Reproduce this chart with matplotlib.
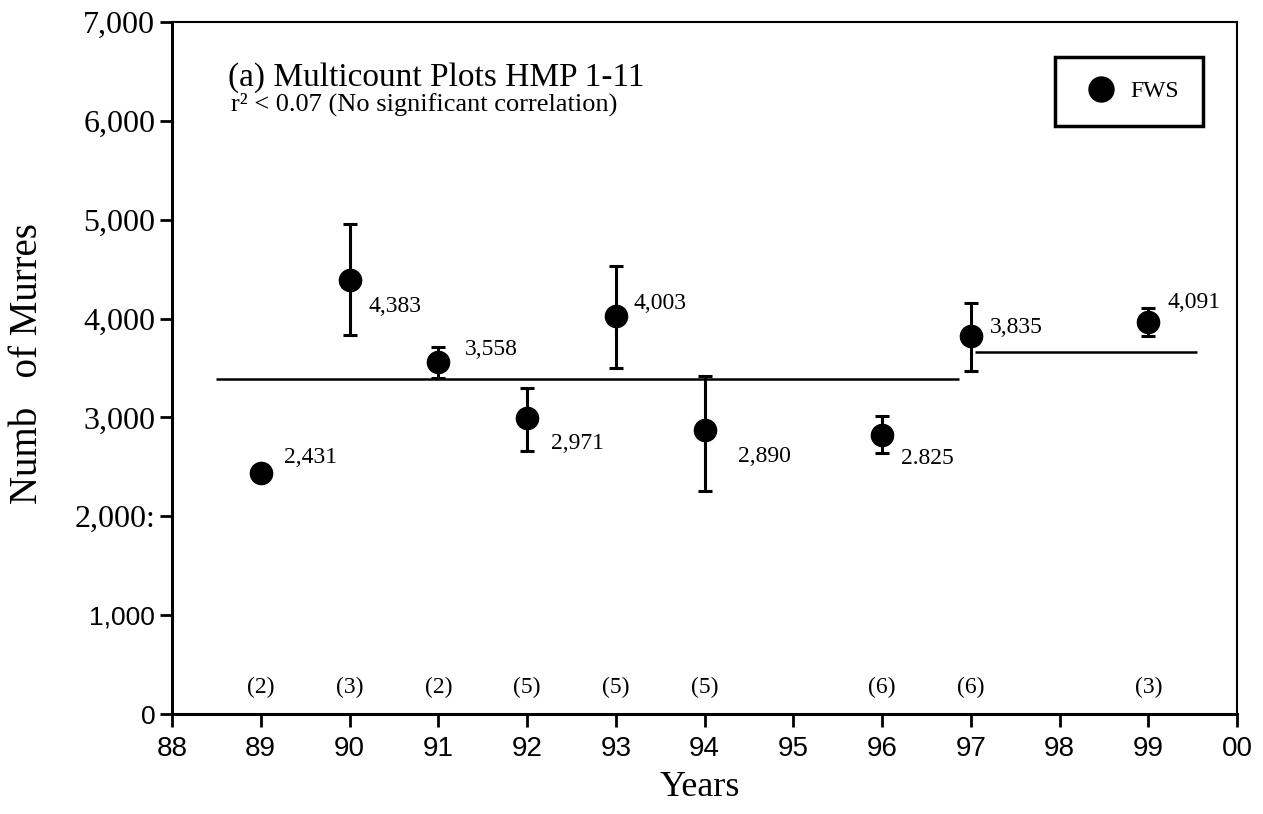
import matplotlib
matplotlib.use('Agg')
import matplotlib.pyplot as plt
from matplotlib.lines import Line2D
import numpy as np

plt.rcParams['font.family'] = 'Liberation Serif'

# murre counts, FWS multicount plots HMP 1-11
years = [89, 90, 91, 92, 93, 94, 96, 97, 99]
fws_mean = [2438, 4390, 3561, 2994, 4026, 2873, 2822, 3824, 3965]
fws_low = [2438, 3834, 3399, 2660, 3500, 2256, 2640, 3469, 3824]
fws_high = [2438, 4957, 3712, 3298, 4532, 3420, 3014, 4157, 4107]
value_labels = ['2,431', '4,383', '3,558', '2,971', '4,003', '2,890', '2.825', '3,835', '4,091']
n_plots = ['(2)', '(3)', '(2)', '(5)', '(5)', '(5)', '(6)', '(6)', '(3)']

# mean lines: before / after 97
mean_level = [3389, 3662]
mean_start = [88.5, 97.05]
mean_end = [96.87, 99.55]

xtick_vals = list(range(88, 101))
xtick_labels = ['88', '89', '90', '91', '92', '93', '94', '95', '96', '97', '98', '99', '00']
ytick_vals = [0, 1000, 2000, 3000, 4000, 5000, 6000, 7000]
ytick_labels = ['0', '1,000', '2,000:', '3,000', '4,000', '5,000', '6,000', '7,000']

# label offsets (points) from each marker
label_dx = [17, 14, 19, 17, 13, 24, 14, 14, 14]
label_dy = [11, -19, 9, -18, 9, -19, -17, 6, 14]

fig = plt.figure(figsize=(12.63, 8.14), dpi=100)
ax = fig.add_axes([172 / 1263, 1 - 714 / 814, 1065 / 1263, 692 / 814])

yerr = [np.array(fws_mean) - np.array(fws_low), np.array(fws_high) - np.array(fws_mean)]
ax.errorbar(years, fws_mean, yerr=yerr, fmt='o', color='black', markersize=16,
            elinewidth=2.2, capsize=5, capthick=2.2, zorder=3)

ax.hlines(mean_level, mean_start, mean_end, color='black', linewidth=1.8)

for x, y, s, dx, dy in zip(years, fws_mean, value_labels, label_dx, label_dy):
    ax.annotate(s, (x, y), xytext=(dx, dy), textcoords='offset points',
                ha='left', va='center', fontsize=17)

for x, s in zip(years, n_plots):
    ax.text(x, 270, s, ha='center', va='center', fontsize=17)

ax.set_xlim(88, 100)
ax.set_ylim(0, 7000)
ax.set_xticks(xtick_vals)
ax.set_xticklabels(xtick_labels, fontfamily='Liberation Sans', fontsize=20)
ax.set_yticks(ytick_vals)
ax.set_yticklabels(ytick_labels, fontsize=23)
for lab in ax.get_yticklabels():
    if lab.get_text() in ('0', '1,000'):
        lab.set_fontfamily('Liberation Sans')
        lab.set_fontsize(19)

ax.tick_params(axis='both', direction='out', length=9, width=2)
ax.tick_params(axis='x', pad=7)
ax.tick_params(axis='y', pad=3)
for side in ['left', 'bottom']:
    ax.spines[side].set_linewidth(2.2)
for side in ['top', 'right']:
    ax.spines[side].set_linewidth(1.5)

ax.text(0.053, 0.919, '(a) Multicount Plots HMP 1-11', transform=ax.transAxes,
        fontsize=24, va='center', ha='left')
ax.text(0.055, 0.881, 'r\u00b2 < 0.07 (No significant correlation)', transform=ax.transAxes,
        fontsize=19, va='center', ha='left')

fws_handle = Line2D([], [], marker='o', color='black', linestyle='none', markersize=18)
leg = ax.legend(handles=[fws_handle], labels=['FWS'], loc='upper right',
                bbox_to_anchor=(0.968, 0.949), borderaxespad=0,
                fancybox=False, edgecolor='black', fontsize=17, handletextpad=0.3,
                borderpad=1.0, handlelength=1.9)
leg.get_frame().set_linewidth(2.5)
leg.get_frame().set_alpha(1)

fig.text(0.022, 0.553, 'Numb   of Murres', rotation=90, fontsize=28, ha='center', va='center')
fig.text(0.554, 0.032, 'Years', fontsize=26, ha='center', va='center')

plt.savefig('out.png', dpi=100)
